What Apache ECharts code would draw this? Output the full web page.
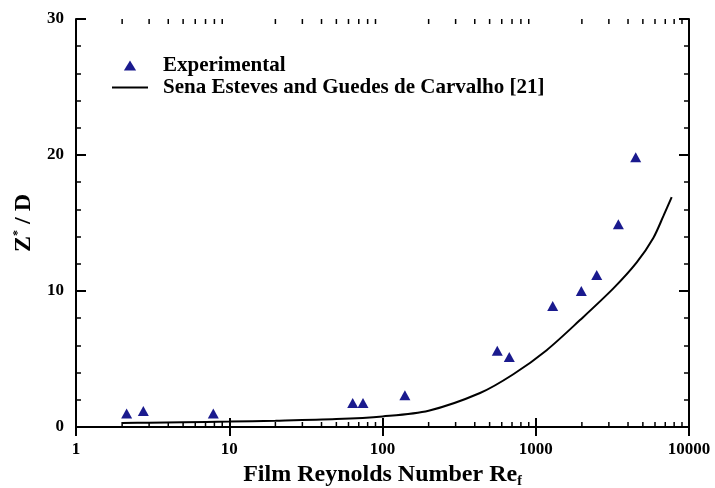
<!DOCTYPE html>
<html>
<head>
<meta charset="utf-8">
<script src="https://cdn.jsdelivr.net/npm/echarts@6/dist/echarts.min.js"></script>
<style>html,body{margin:0;padding:0;background:#fff}#c{width:715px;height:488px}</style>
</head>
<body>
<div id="c"></div>
<script>
// Experimental points
var expX = [2.14, 2.75, 7.87, 63.9, 74.6, 140, 561, 672, 1290, 1983, 2500, 3460, 4490];
var expY = [0.99, 1.18, 0.99, 1.77, 1.77, 2.33, 5.6, 5.15, 8.89, 10.0, 11.17, 14.9, 19.84];
// Correlation curve (Sena Esteves and Guedes de Carvalho)
var curveX = [2, 3, 5, 10, 20, 50, 100, 200, 433, 714, 1178, 1944, 3210, 4560, 5850, 6800, 7710];
var curveY = [0.30, 0.32, 0.35, 0.40, 0.46, 0.58, 0.78, 1.2, 2.5, 3.88, 5.65, 7.86, 10.19, 12.1, 13.9, 15.5, 16.9];
// Log-axis minor tick values
var minorTickValues = [2,3,4,5,6,7,8,9,20,30,40,50,60,70,80,90,200,300,400,500,600,700,800,900,2000,3000,4000,5000,6000,7000,8000,9000];
var yTicks = [0, 10, 20, 30];

var FONT = '"Liberation Serif", "Times New Roman", serif';
var chart = echarts.init(document.getElementById('c'));

function zip(a, b) { return a.map(function (v, i) { return [v, b[i]]; }); }

var axisLine = { show: true, lineStyle: { color: '#000', width: 2 } };
var MARK = '#1a1a8e';

chart.setOption({
  animation: false,
  backgroundColor: '#fff',
  grid: { left: 76, right: 26, top: 19, bottom: 61, containLabel: false, outerBoundsMode: 'none' },
  legend: {
    orient: 'vertical',
    left: 107,
    top: 50,
    itemGap: 1,
    itemWidth: 36,
    itemHeight: 10,
    symbolKeepAspect: true,
    textStyle: { fontFamily: FONT, fontWeight: 'bold', fontSize: 21, color: '#000', padding: [0, 0, 0, 10] },
    data: [
      { name: 'Experimental', icon: 'path://M5.5,0 L11,9 L0,9 Z', itemStyle: { color: MARK } },
      { name: 'Sena Esteves and Guedes de Carvalho [21]', icon: 'path://M0,0 L36,0 L36,2 L0,2 Z' }
    ]
  },
  xAxis: [{
    type: 'log', logBase: 10, min: 1, max: 10000,
    axisLine: axisLine,
    axisTick: { show: true, inside: true, length: 9, lineStyle: { color: '#000', width: 2 } },
    splitLine: { show: false },
    axisLabel: { fontFamily: FONT, fontWeight: 'bold', fontSize: 17, color: '#000', margin: 14,
      formatter: function (v) { return String(Math.round(v)); } },
    name: 'Film Reynolds Number Re{sub|f}',
    nameLocation: 'middle',
    nameGap: 25,
    nameTextStyle: {
      fontFamily: FONT, fontWeight: 'bold', fontSize: 24, color: '#000', verticalAlign: 'top',
      rich: { sub: { fontFamily: FONT, fontWeight: 'bold', fontSize: 14, color: '#000', verticalAlign: 'bottom', padding: [12, 0, 0, 0] } }
    }
  }, {
    type: 'log', logBase: 10, min: 1, max: 10000, position: 'top',
    axisLine: axisLine,
    axisTick: { show: true, inside: true, length: 9, lineStyle: { color: '#000', width: 2 } },
    splitLine: { show: false },
    axisLabel: { show: false }
  }],
  yAxis: [{
    type: 'value', min: 0, max: 30, interval: 10,
    axisLine: axisLine,
    axisTick: { show: true, inside: true, length: 10, lineStyle: { color: '#000', width: 2 } },
    minorTick: { show: true, splitNumber: 5, length: 5, lineStyle: { color: '#000', width: 1.5 } },
    splitLine: { show: false },
    axisLabel: { fontFamily: FONT, fontWeight: 'bold', fontSize: 17, color: '#000', margin: 12,
      formatter: function (v) { return yTicks.indexOf(v) >= 0 ? String(v) : ''; } },
    name: 'Z{sup|*} / D',
    nameLocation: 'middle',
    nameGap: 39,
    nameRotate: 90,
    nameTextStyle: {
      fontFamily: FONT, fontWeight: 'bold', fontSize: 24, color: '#000',
      rich: { sup: { fontFamily: FONT, fontWeight: 'bold', fontSize: 12, color: '#000', verticalAlign: 'top', padding: [0, 0, 10, 0] } }
    }
  }, {
    type: 'value', min: 0, max: 30, interval: 10, position: 'right',
    axisLine: axisLine,
    axisTick: { show: true, inside: true, length: 10, lineStyle: { color: '#000', width: 2 } },
    minorTick: { show: true, splitNumber: 5, length: 5, lineStyle: { color: '#000', width: 1.5 } },
    splitLine: { show: false },
    axisLabel: { show: false }
  }],
  series: [{
    name: 'minorTicks',
    type: 'custom',
    xAxisIndex: 0, yAxisIndex: 0,
    silent: true,
    data: minorTickValues.map(function (v) { return [v, 0]; }),
    encode: { x: 0, y: 1 },
    renderItem: function (params, api) {
      var v = api.value(0);
      var b = api.coord([v, 0]);
      var t = api.coord([v, 30]);
      return { type: 'group', children: [
        { type: 'line', shape: { x1: b[0], y1: b[1], x2: b[0], y2: b[1] - 5 }, style: { stroke: '#000', lineWidth: 1.5 } },
        { type: 'line', shape: { x1: t[0], y1: t[1], x2: t[0], y2: t[1] + 5 }, style: { stroke: '#000', lineWidth: 1.5 } }
      ] };
    }
  }, {
    name: 'Sena Esteves and Guedes de Carvalho [21]',
    type: 'line',
    data: zip(curveX, curveY),
    smooth: 0.3,
    showSymbol: false,
    symbol: 'none',
    lineStyle: { color: '#000', width: 2 },
    itemStyle: { color: '#000' }
  }, {
    name: 'Experimental',
    type: 'scatter',
    data: zip(expX, expY),
    symbol: 'triangle',
    symbolSize: [11, 10],
    itemStyle: { color: MARK, opacity: 1 }
  }]
});
</script>
</body>
</html>
